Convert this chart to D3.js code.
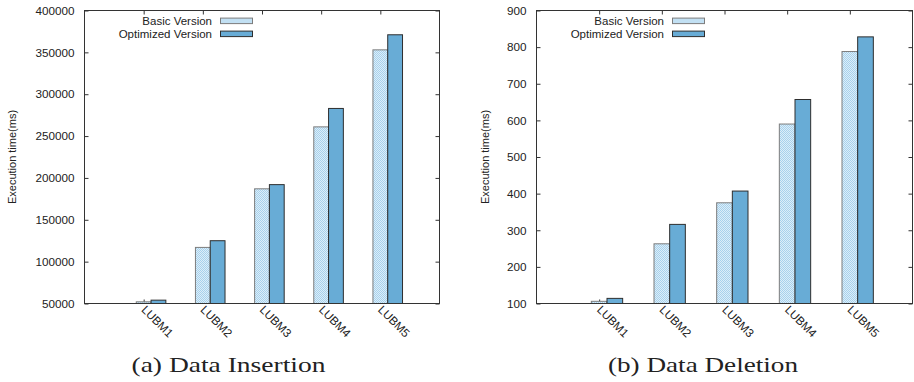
<!DOCTYPE html>
<html>
<head>
<meta charset="utf-8">
<script src="https://cdn.jsdelivr.net/npm/d3@7.9.0/dist/d3.min.js"></script>
<style>
  body { margin: 0; background: #fff; }
  svg { display: block; }
  text { font-family: "Liberation Sans", Arial, sans-serif; fill: #222; }
</style>
</head>
<body>
<svg id="chart" width="914" height="382"></svg>
<script>
// values
const categories = ['LUBM1', 'LUBM2', 'LUBM3', 'LUBM4', 'LUBM5'];
const seriesNames = ['Basic Version', 'Optimized Version'];

const insertBasic = [52000, 117000, 187000, 261000, 353000];
const insertOpt   = [54000, 125000, 192000, 283000, 371000];
const insertTicks = [50000, 100000, 150000, 200000, 250000, 300000, 350000, 400000];

const deleteBasic = [106, 263, 375, 590, 788];
const deleteOpt   = [114, 316, 407, 657, 828];
const deleteTicks = [100, 200, 300, 400, 500, 600, 700, 800, 900];

const yTitle = 'Execution time(ms)';
const captions = ['(a) Data Insertion', '(b) Data Deletion'];

const svg = d3.select('#chart');

const defs = svg.append('defs');
const pat = defs.append('pattern').attr('id', 'dots')
  .attr('width', 2).attr('height', 2).attr('patternUnits', 'userSpaceOnUse');
pat.append('rect').attr('width', 2).attr('height', 2).attr('fill', '#dceef9');
pat.append('rect').attr('width', 1).attr('height', 1).attr('fill', '#a8d1ec');
pat.append('rect').attr('x', 1).attr('y', 1).attr('width', 1).attr('height', 1).attr('fill', '#a8d1ec');

function panel(o) {
  const x = d3.scaleLinear().domain([0, categories.length + 1]).range([o.left, o.right]);
  const y = d3.scaleLinear().domain([o.ticks[0], o.ticks[o.ticks.length - 1]]).range([o.bottom, o.top]);
  const g = svg.append('g');

  const style = a => {
    a.select('.domain').remove();
    a.selectAll('.tick line').attr('stroke', '#333');
    a.selectAll('text').attr('fill', '#222').style('font-size', '11.7px')
      .style('font-family', '"Liberation Sans", Arial, sans-serif');
  };
  const idx = categories.map((_, i) => i + 1);

  g.append('g').attr('transform', `translate(${o.left},0)`)
    .call(d3.axisLeft(y).tickValues(o.ticks).tickSize(-4).tickPadding(10).tickFormat(d3.format('d')))
    .call(style);
  g.append('g').attr('transform', `translate(${o.right},0)`)
    .call(d3.axisRight(y).tickValues(o.ticks).tickSize(-4).tickFormat(''))
    .call(style);
  g.append('g').attr('transform', `translate(0,${o.top})`)
    .call(d3.axisTop(x).tickValues(idx).tickSize(-4).tickFormat(''))
    .call(style);
  g.append('g').attr('transform', `translate(0,${o.bottom})`)
    .call(d3.axisBottom(x).tickValues(idx).tickSize(-4).tickFormat(''))
    .call(style);

  // bars: basic sits on the tick, optimized to its right
  const w = 0.25;
  g.selectAll('rect.basic').data(o.basic).join('rect').attr('class', 'basic')
    .attr('x', (d, i) => x(i + 1 - w / 2)).attr('width', x(w) - x(0))
    .attr('y', d => y(d)).attr('height', d => y(o.ticks[0]) - y(d))
    .attr('fill', 'url(#dots)').attr('stroke', '#7d7d7d');
  g.selectAll('rect.opt').data(o.opt).join('rect').attr('class', 'opt')
    .attr('x', (d, i) => x(i + 1 + w / 2)).attr('width', x(w) - x(0))
    .attr('y', d => y(d)).attr('height', d => y(o.ticks[0]) - y(d))
    .attr('fill', '#68acd6').attr('stroke', '#2e2e2e');

  // frame
  g.append('rect').attr('x', o.left).attr('y', o.top)
    .attr('width', o.right - o.left).attr('height', o.bottom - o.top)
    .attr('fill', 'none').attr('stroke', '#333');

  // category labels, rotated
  g.selectAll('text.cat').data(categories).join('text').attr('class', 'cat')
    .attr('transform', (d, i) => `translate(${x(i + 1) - 3},${o.bottom + 7}) rotate(45)`)
    .style('font-size', '11.7px').text(d => d);

  // y title
  g.append('text')
    .attr('transform', `translate(${o.titleX},${(o.top + o.bottom) / 2}) rotate(-90)`)
    .attr('text-anchor', 'middle').style('font-size', '11px').text(yTitle);

  // legend
  const leg = g.selectAll('g.leg').data(seriesNames).join('g').attr('class', 'leg')
    .attr('transform', (d, i) => `translate(${o.left},${20.8 + i * 13})`);
  leg.append('text').attr('x', 127.5).attr('y', 4).attr('text-anchor', 'end')
    .style('font-size', '11.5px').text(d => d);
  leg.append('rect').attr('x', 136).attr('y', -2.7).attr('width', 32).attr('height', 5.5)
    .attr('fill', (d, i) => i ? '#68acd6' : 'url(#dots)')
    .attr('stroke', (d, i) => i ? '#2e2e2e' : '#7d7d7d');

  // caption
  svg.append('text').attr('x', o.capX).attr('y', 372).attr('text-anchor', 'middle')
    .attr('textLength', o.capW).attr('lengthAdjust', 'spacingAndGlyphs')
    .style('font-family', '"Liberation Serif", "DejaVu Serif", serif')
    .style('font-size', '21px').text(o.caption);
}

panel({ left: 84.5, right: 439.5, top: 10.5, bottom: 303.5, ticks: insertTicks,
  basic: insertBasic, opt: insertOpt, titleX: 16, capX: 228.5, capW: 194, caption: captions[0] });
panel({ left: 536.5, right: 912.5, top: 10.5, bottom: 303.5, ticks: deleteTicks,
  basic: deleteBasic, opt: deleteOpt, titleX: 488.5, capX: 703, capW: 190, caption: captions[1] });
</script>
</body>
</html>
